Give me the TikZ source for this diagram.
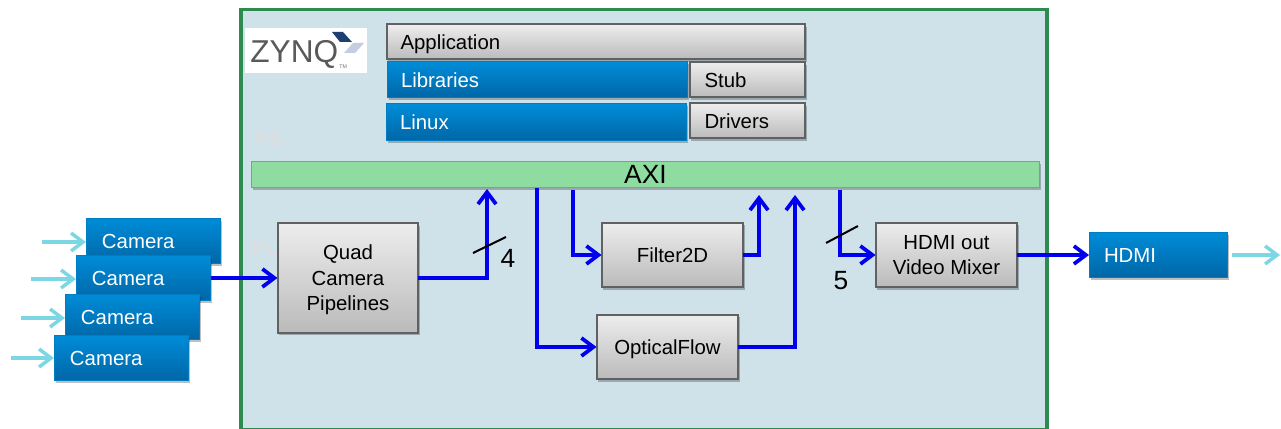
\documentclass[tikz,border=0pt]{standalone}
\usepackage{fontspec}
\setmainfont{Liberation Sans}
\usetikzlibrary{arrows.meta,shadows}
\definecolor{panelfill}{HTML}{CFE1E9}
\definecolor{panelline}{HTML}{2E8B4F}
\definecolor{busfill}{HTML}{8FDCA0}
\definecolor{flowblue}{HTML}{0000EE}
\definecolor{inblue}{HTML}{7DD6E4}
\definecolor{bluetop}{HTML}{008CD8}
\definecolor{bluebot}{HTML}{0066A6}
\definecolor{logodark}{HTML}{1F3F72}
\definecolor{logolight}{HTML}{C5CDE0}
\definecolor{regiontext}{HTML}{DCDDDE}
\tikzset{
  softshadow/.style={drop shadow={shadow xshift=0.03cm,shadow yshift=-0.05cm,opacity=0.25,fill=black}},
  graybox/.style={draw=black!62,line width=0.04cm,top color=black!7,bottom color=black!27,softshadow,outer sep=0pt,
    inner sep=0pt,anchor=north west,align=center,font=\fontsize{11.6}{14.5}\selectfont},
  bluebox/.style={draw=bluetop!90!black,line width=0.02cm,top color=bluetop,bottom color=bluebot,softshadow,outer sep=0pt,
    inner ysep=0pt,inner xsep=0.28cm,anchor=north west,align=left,text=white,font=\fontsize{11.6}{14}\selectfont},
  flatline/.style={text depth=0pt},
  flow/.style={draw=flowblue,line width=0.075cm,-{Straight Barb[length=0.24cm,width=0.36cm,line width=0.075cm]}},
  feed/.style={draw=inblue,line width=0.07cm,-{Straight Barb[length=0.24cm,width=0.36cm,line width=0.07cm]}},
  slash/.style={draw=black,line width=0.04cm},
  count/.style={font=\fontsize{15}{18}\selectfont},
  region/.style={anchor=west,inner sep=0pt,text=regiontext,font=\bfseries\fontsize{11.5}{12}\selectfont},
}
\begin{document}
\begin{tikzpicture}[x=0.02cm,y=-0.02cm]
\useasboundingbox (0,0) rectangle (1281,429);

% Drawing panel
\node (panel) [draw=panelline,fill=panelfill,line width=0.07cm,inner sep=0pt,outer sep=0pt,anchor=north west,
  minimum width=16.12cm,minimum height=8.4cm] at (241,9.5) {};

% Marking logo
\node (logo) [fill=white,inner sep=0pt,anchor=north west,minimum width=2.44cm,minimum height=0.9cm] at (245,28) {};
\node (zynq) [anchor=west,inner sep=0pt,text=black!65,font=\fontsize{18}{18}\selectfont] at (250,54) {ZYNQ};
\node (zynqtm) [anchor=west,inner sep=0pt,text=black!55,font=\fontsize{3}{3}\selectfont] at (339,67) {TM};
\fill [logodark] (332,32) -- (343,32) -- (352,42) -- (340,42) -- cycle;
\fill [logolight] (353,43) -- (364,43) -- (355,53) -- (344,53) -- cycle;

% Marking regions
\node (ps) [region] at (255,139) {PS};
\node (pl) [region] at (252,249) {PL};

% Drawing software stack
\node (application) [graybox,flatline,minimum width=8.38cm,minimum height=0.7cm,align=left,inner xsep=0.28cm,text width=7.82cm] at (386.5,24.5) {Application};
\node (libraries) [bluebox,minimum width=6.02cm,minimum height=0.72cm,text width=5.46cm] at (387,62) {Libraries};
\node (stub) [graybox,minimum width=2.32cm,minimum height=0.7cm,align=left,inner xsep=0.3cm,text width=1.72cm] at (689.5,62.5) {Stub};
\node (linux) [bluebox,minimum width=6.02cm,minimum height=0.74cm,text width=5.46cm] at (386,104) {Linux};
\node (drivers) [graybox,minimum width=2.32cm,minimum height=0.7cm,align=left,inner xsep=0.3cm,text width=1.72cm] at (689.5,103.5) {Drivers};

% Drawing bus
\node (axi) [draw=black!42,line width=0.03cm,fill=busfill,softshadow,inner sep=0pt,outer sep=0pt,anchor=north west,
  minimum width=15.76cm,minimum height=0.52cm,font=\fontsize{15}{18}\selectfont] at (251.5,161.5) {AXI};

% Drawing cameras
\node (cam1) [bluebox,minimum width=2.7cm,minimum height=0.92cm,text width=2.06cm,inner xsep=0.32cm] at (86,218) {Camera};
\node (cam2) [bluebox,minimum width=2.7cm,minimum height=0.92cm,text width=2.06cm,inner xsep=0.32cm] at (76,255) {Camera};
\node (cam3) [bluebox,minimum width=2.7cm,minimum height=0.92cm,text width=2.06cm,inner xsep=0.32cm] at (65,294) {Camera};
\node (cam4) [bluebox,minimum width=2.7cm,minimum height=0.92cm,text width=2.06cm,inner xsep=0.32cm] at (54,335) {Camera};
\node (hdmi) [bluebox,minimum width=2.78cm,minimum height=0.92cm,text width=2.18cm,inner xsep=0.3cm] at (1089,232) {HDMI};

% Drawing processing blocks
\node (quad) [graybox,flatline,minimum width=2.82cm,minimum height=2.2cm] at (277.5,223) {Quad\\Camera\\Pipelines};
\node (filter) [graybox,minimum width=2.84cm,minimum height=1.3cm] at (601.5,222.5) {Filter2D};
\node (optical) [graybox,flatline,minimum width=2.84cm,minimum height=1.3cm] at (596.5,314.5) {OpticalFlow};
\node (mixer) [graybox,minimum width=2.84cm,minimum height=1.3cm] at (875.5,222.5) {HDMI out\\Video Mixer};

% Marking free ends
\coordinate (cam1in) at (42,242);
\coordinate (cam2in) at (31,279);
\coordinate (cam3in) at (21,318);
\coordinate (cam4in) at (11,358);
\coordinate (hdmifeed) at (1232,255);
\coordinate (hdmiout) at (1280,255);
\coordinate (quadup) at (487,189);
\coordinate (filterup) at (759,195);
\coordinate (opticalup) at (795,195);
\coordinate (filterdown) at (573,190);
\coordinate (opticaldown) at (537,188);
\coordinate (mixerdown) at (840,190);

% Drawing feeds
\draw [feed] (cam1in) -- (cam1in -| cam1.west);
\draw [feed] (cam2in) -- (cam2in -| cam2.west);
\draw [feed] (cam3in) -- (cam3in -| cam3.west);
\draw [feed] (cam4in) -- (cam4in -| cam4.west);
\draw [feed] (hdmifeed) -- (hdmiout);

% Drawing flows
\draw [flow] (cam2.east) -- (quad.west);
\draw [flow] (quad.east) -| (quadup);
\draw [flow] (filterdown) |- (filter.west);
\draw [flow] (opticaldown) |- (optical.west);
\draw [flow] (filter.east) -| (filterup);
\draw [flow] (optical.east) -| (opticalup);
\draw [flow] (mixerdown) |- (mixer.west);
\draw [flow] (mixer.east) -- (mixer.east -| hdmi.west);

% Drawing bus widths
\coordinate (slash4a) at (473,253);
\coordinate (slash4b) at (506,237);
\coordinate (slash5a) at (826,243);
\coordinate (slash5b) at (858,226);
\draw [slash] (slash4a) -- (slash4b);
\draw [slash] (slash5a) -- (slash5b);
\node (four) [count] at (508,258) {4};
\node (five) [count] at (841,281) {5};
\end{tikzpicture}
\end{document}
